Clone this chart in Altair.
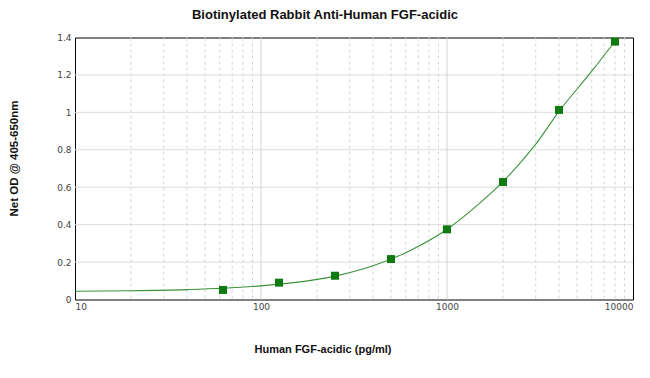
import altair as alt
import pandas as pd

# Measured standards
conc = [62.5, 125, 250, 500, 1000, 2000, 4000, 8000]
od = [0.051, 0.090, 0.127, 0.216, 0.375, 0.628, 1.013, 1.378]

# Fitted curve
curve_x = [10, 20, 40, 62.5, 100, 150, 250, 400, 600, 1000, 1500, 2000, 3000, 4000, 6000, 8000]
curve_y = [0.044, 0.047, 0.053, 0.060, 0.073, 0.090, 0.125, 0.180, 0.250, 0.375, 0.515, 0.630, 0.830, 1.005, 1.220, 1.380]

x_ticks = [10, 100, 1000, 10000]
x_major = [100, 1000]
x_minor = [20, 30, 40, 50, 60, 70, 80, 90,
           200, 300, 400, 500, 600, 700, 800, 900,
           2000, 3000, 4000, 5000, 6000, 7000, 8000, 9000]
y_ticks = [0, 0.2, 0.4, 0.6, 0.8, 1.0, 1.2, 1.4]
y_grid = [0.2, 0.4, 0.6, 0.8, 1.0, 1.2]

title = "Biotinylated Rabbit Anti-Human FGF-acidic"
x_title = "Human FGF-acidic (pg/ml)"
y_title = "Net OD @ 405-650nm"

pts = pd.DataFrame({"x": conc, "y": od})
crv = pd.DataFrame({"x": curve_x, "y": curve_y})
hg = pd.DataFrame({"y": y_grid})
vmaj = pd.DataFrame({"x": x_major})
vmin = pd.DataFrame({"x": x_minor})

xs = alt.Scale(type="log", domain=[10, 10000], nice=False)
ys = alt.Scale(domain=[0, 1.4], nice=False, zero=True)

FONT = "Liberation Sans"

x_axis = alt.Axis(values=x_ticks, format="d", grid=False, ticks=False, domain=False,
                  labelFont="DejaVu Sans", labelFontSize=9, labelColor="#444444",
                  labelPadding=3,
                  titleFont=FONT, titleFontSize=11, titleFontWeight="bold", titleColor="#111111",
                  titleX=247.5, titleY=49.5, titleAnchor="middle", titleAlign="center",
                  titleBaseline="middle")
y_axis = alt.Axis(values=y_ticks, format="~g", grid=False, ticks=False, domain=False,
                  labelFont="DejaVu Sans", labelFontSize=9, labelColor="#444444",
                  labelPadding=4,
                  titleFont=FONT, titleFontSize=11.5, titleFontWeight="bold", titleColor="#111111",
                  titleX=-61, titleY=120.5, titleAngle=270, titleAlign="center",
                  titleBaseline="middle")

X = alt.X("x:Q", scale=xs, title=x_title, axis=x_axis)
Y = alt.Y("y:Q", scale=ys, title=y_title, axis=y_axis)

hgrid = alt.Chart(hg).mark_rule(color="#dcdcdc", strokeWidth=1).encode(y=Y)
vgrid_maj = alt.Chart(vmaj).mark_rule(color="#d4d4d4", strokeWidth=1).encode(x=X)
vgrid_min = alt.Chart(vmin).mark_rule(color="#d4d4d4", strokeWidth=1, strokeDash=[3, 3]).encode(x=X)

line = alt.Chart(crv).mark_line(color="#3a923a", strokeWidth=1.1, interpolate="monotone").encode(x=X, y=Y)

points = alt.Chart(pts).mark_square(color="#0f7a0f", opacity=1, size=64).encode(x=X, y=Y)

chart = alt.layer(hgrid, vgrid_min, vgrid_maj, line, points).properties(
    width=558,
    height=262,
    title=alt.TitleParams(title, font=FONT, fontSize=13, fontWeight="bold", color="#111111",
                          anchor="middle", frame="group", dx=-29, offset=12),
    autosize=alt.AutoSizeParams(type="none"),
    padding={"left": 67, "top": 29.5, "right": 9, "bottom": 70},
).configure(background="white").configure_view(stroke="black", strokeWidth=1)

chart.save("out.html", embed_options={"renderer": "svg", "actions": False})
